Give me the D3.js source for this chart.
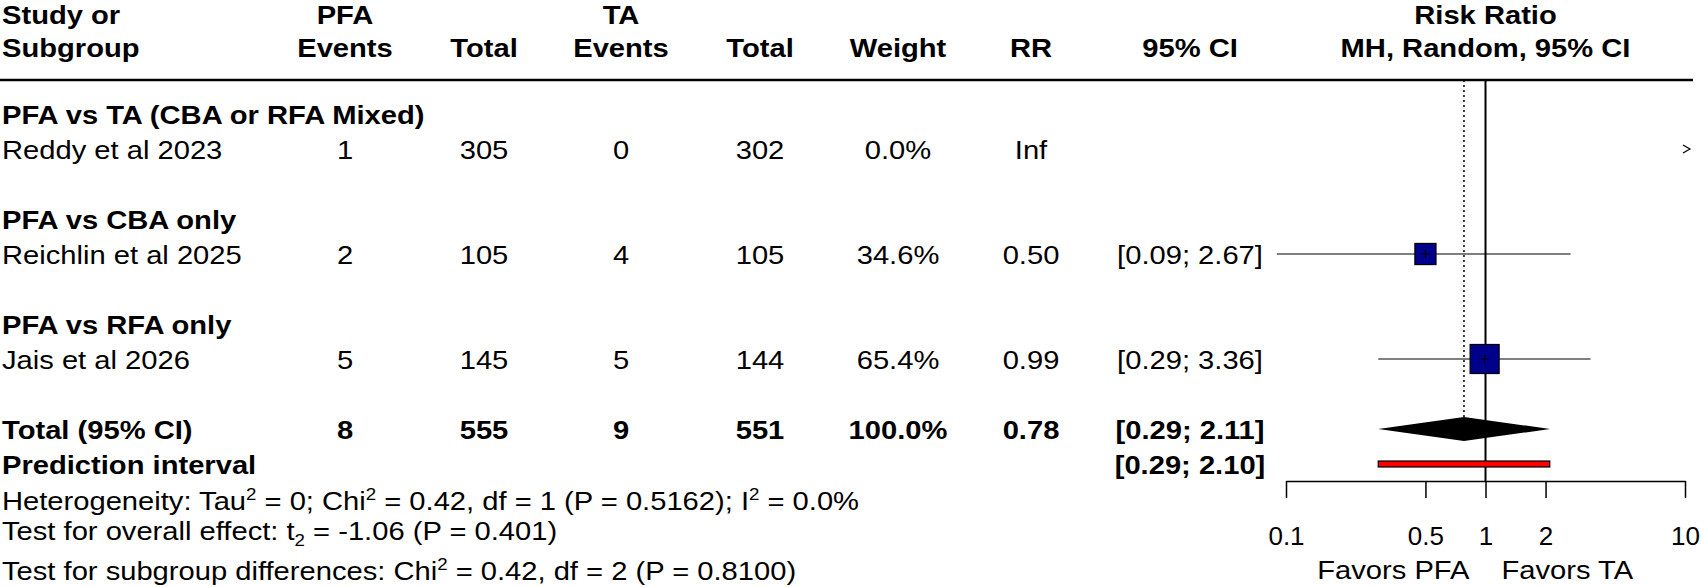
<!DOCTYPE html>
<html>
<head>
<meta charset="utf-8">
<script src="https://cdn.jsdelivr.net/npm/d3@7"></script>
<style>
  body { margin: 0; background: #fff; }
  text { font-family: "Liberation Sans", Arial, sans-serif; fill: #000; }
</style>
</head>
<body>
<div id="chart"></div>
<script>
// Study level data.
var subgroups = ["PFA vs TA (CBA or RFA Mixed)", "PFA vs CBA only", "PFA vs RFA only"];
var studies = ["Reddy et al 2023", "Reichlin et al 2025", "Jais et al 2026"];
var pfaEvents = [1, 2, 5];
var pfaTotal = [305, 105, 145];
var taEvents = [0, 4, 5];
var taTotal = [302, 105, 144];
var weights = [0.0, 34.6, 65.4];
var rrValues = [Infinity, 0.50, 0.99];
var ciLower = [null, 0.09, 0.29];
var ciUpper = [null, 2.67, 3.36];

// Pooled result.
var totalEvents = [8, 9];
var totalN = [555, 551];
var totalRR = 0.78;
var totalCI = [0.29, 2.11];
var predInterval = [0.29, 2.10];

var axisTicks = [0.1, 0.5, 1, 2, 10];

var width = 1701,
    height = 587;

var FS = 26.5,   // font size
    SX = 1.10;   // horizontal stretch of the original rendering

var svg = d3.select("#chart")
  .append("svg")
    .attr("width", width)
    .attr("height", height);

// Row positions (one row = 35px) and the log scale for the risk ratio.
var rowY = d3.scaleLinear().domain([0, 1]).range([114, 149]);
var x = d3.scaleLog().domain([0.1, 10]).range([1286, 1685]);
var sq = d3.scaleSqrt().domain([0, 100]).range([0, 35.9]);

var col = { pfaE: 345, pfaT: 484, taE: 621, taT: 760, weight: 898, rr: 1031, ci: 1190 };

function label(px, py, s, bold, anchor) {
  return svg.append("text")
    .attr("transform", "translate(" + px + "," + py + ") scale(" + SX + ",1)")
    .attr("text-anchor", anchor || "start")
    .attr("font-weight", bold ? "bold" : null)
    .style("font-size", FS + "px")
    .text(s);
}

function base(r) { return rowY(r) + 9.5; }

// Header.
var h1 = 24, h2 = 57;
label(2, h1, "Study or", true);
label(2, h2, "Subgroup", true);
label(col.pfaE, h1, "PFA", true, "middle");
label(col.pfaE, h2, "Events", true, "middle");
label(col.pfaT, h2, "Total", true, "middle");
label(col.taE, h1, "TA", true, "middle");
label(col.taE, h2, "Events", true, "middle");
label(col.taT, h2, "Total", true, "middle");
label(col.weight, h2, "Weight", true, "middle");
label(col.rr, h2, "RR", true, "middle");
label(col.ci, h2, "95% CI", true, "middle");
label(x(1), h1, "Risk Ratio", true, "middle");
label(x(1), h2, "MH, Random, 95% CI", true, "middle");

svg.append("line")
  .attr("x1", 0).attr("x2", 1693)
  .attr("y1", 80).attr("y2", 80)
  .attr("stroke", "#000").attr("stroke-width", 2.5);

// Reference lines: no effect (solid) and pooled estimate (dotted).
var axisY = 481;
svg.append("line")
  .attr("x1", x(1)).attr("x2", x(1))
  .attr("y1", 80).attr("y2", axisY)
  .attr("stroke", "#000").attr("stroke-width", 2);

svg.append("line")
  .attr("x1", x(totalRR)).attr("x2", x(totalRR))
  .attr("y1", 80).attr("y2", rowY(9) - 12)
  .attr("stroke", "#000").attr("stroke-width", 1.5)
  .attr("stroke-dasharray", "2,3");

// Subgroups and studies.
subgroups.forEach(function(name, i) {
  var r = i * 3;
  label(2, base(r), name, true);
  var sr = r + 1, yb = base(sr), yc = rowY(sr);
  label(2, yb, studies[i], false);
  label(col.pfaE, yb, pfaEvents[i], false, "middle");
  label(col.pfaT, yb, pfaTotal[i], false, "middle");
  label(col.taE, yb, taEvents[i], false, "middle");
  label(col.taT, yb, taTotal[i], false, "middle");
  label(col.weight, yb, weights[i].toFixed(1) + "%", false, "middle");

  if (!isFinite(rrValues[i])) {
    label(col.rr, yb, "Inf", false, "middle");
    // Estimate off the right edge of the plot.
    var ax = x.range()[1] + 2;
    svg.append("path")
      .attr("d", "M" + (ax - 4) + "," + (yc - 4) + "L" + (ax + 3) + "," + yc + "L" + (ax - 4) + "," + (yc + 4))
      .attr("fill", "none").attr("stroke", "#000").attr("stroke-width", 1.2);
    return;
  }

  label(col.rr, yb, rrValues[i].toFixed(2), false, "middle");
  label(col.ci, yb, "[" + ciLower[i].toFixed(2) + "; " + ciUpper[i].toFixed(2) + "]", false, "middle");

  svg.append("line")
    .attr("x1", x(ciLower[i])).attr("x2", x(ciUpper[i]))
    .attr("y1", yc).attr("y2", yc)
    .attr("stroke", "#000").attr("stroke-width", 1.2);

  var s = sq(weights[i]);
  svg.append("rect")
    .attr("x", x(rrValues[i]) - s / 2).attr("y", yc - s / 2)
    .attr("width", s).attr("height", s)
    .attr("fill", "#00008b").attr("stroke", "#000").attr("stroke-width", 1.2);

  // Small cross marking the point estimate inside the square.
  svg.append("path")
    .attr("d", "M" + (x(rrValues[i]) - 4) + "," + yc + "H" + (x(rrValues[i]) + 4) +
               "M" + x(rrValues[i]) + "," + (yc - 4) + "V" + (yc + 4))
    .attr("stroke", "#000").attr("stroke-width", 1);
});

// Overall effect.
var tb = base(9), tc = rowY(9);
label(2, tb, "Total (95% CI)", true);
label(col.pfaE, tb, totalEvents[0], true, "middle");
label(col.pfaT, tb, totalN[0], true, "middle");
label(col.taE, tb, totalEvents[1], true, "middle");
label(col.taT, tb, totalN[1], true, "middle");
label(col.weight, tb, d3.sum(weights).toFixed(1) + "%", true, "middle");
label(col.rr, tb, totalRR.toFixed(2), true, "middle");
label(col.ci, tb, "[" + totalCI[0].toFixed(2) + "; " + totalCI[1].toFixed(2) + "]", true, "middle");

svg.append("path")
  .attr("d", "M" + x(totalCI[0]) + "," + tc +
             "L" + x(totalRR) + "," + (tc - 12) +
             "L" + x(totalCI[1]) + "," + tc +
             "L" + x(totalRR) + "," + (tc + 12) + "Z")
  .attr("fill", "#000");

// Prediction interval.
var pb = base(10), pc = rowY(10);
label(2, pb, "Prediction interval", true);
label(col.ci, pb, "[" + predInterval[0].toFixed(2) + "; " + predInterval[1].toFixed(2) + "]", true, "middle");
svg.append("rect")
  .attr("x", x(predInterval[0])).attr("y", pc - 3)
  .attr("width", x(predInterval[1]) - x(predInterval[0])).attr("height", 6)
  .attr("fill", "#ff0000").attr("stroke", "#000").attr("stroke-width", 1.2);

// Axis.
var axis = svg.append("g")
  .attr("transform", "translate(0," + axisY + ")")
  .call(d3.axisBottom(x)
    .tickValues(axisTicks)
    .tickFormat(function(d) { return String(d); })
    .tickSize(17)
    .tickSizeOuter(0)
    .tickPadding(29));
axis.select(".domain").attr("stroke-width", 1.5);
axis.selectAll(".tick line").attr("stroke-width", 1.5);
axis.selectAll(".tick text")
  .style("font-size", "26px")
  .style("font-family", "'Liberation Sans', Arial, sans-serif");

label(x(1) - 16, 579, "Favors PFA", false, "end");
label(x(1) + 16, 579, "Favors TA", false, "start");

// Heterogeneity and test statistics.
var footLines = [
  { y: 510, parts: [["Heterogeneity: Tau"], ["2", "sup"], [" = 0; Chi"], ["2", "sup"],
                    [" = 0.42, df = 1 (P = 0.5162); I"], ["2", "sup"], [" = 0.0%"]] },
  { y: 540, parts: [["Test for overall effect: t"], ["2", "sub"], [" = -1.06 (P = 0.401)"]] },
  { y: 580, parts: [["Test for subgroup differences: Chi"], ["2", "sup"], [" = 0.42, df = 2 (P = 0.8100)"]] }
];

footLines.forEach(function(line) {
  var t = label(2, line.y, "", false);
  var shift = 0;
  line.parts.forEach(function(p) {
    var target = p[1] === "sup" ? -10 : p[1] === "sub" ? 6 : 0;
    t.append("tspan")
      .attr("dy", target - shift)
      .style("font-size", p[1] ? "17px" : null)
      .text(p[0]);
    shift = target;
  });
});
</script>
</body>
</html>
